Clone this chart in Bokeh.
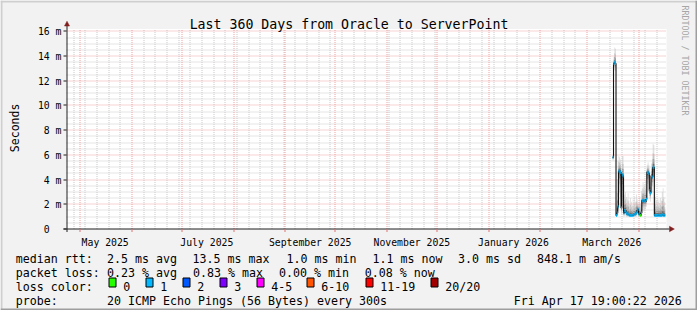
import math
import pandas as pd
from bokeh.plotting import figure
from bokeh.models import Range1d
from bokeh.core.properties import value
from bokeh.embed import file_html
from bokeh.resources import INLINE

# ---------------- data ----------------
title_text = "Last 360 Days from Oracle to ServerPoint"
y_axis_title = "Seconds"
watermark = "RRDTOOL / TOBI OETIKER"
end_time = pd.Timestamp("2026-04-17 19:00:22")
span_days = 360
bin_start = pd.Timestamp("2026-03-16 12:00:00")   # first 12 h consolidation bin
bin_hours = 12

median_ms = [5.8, 13.4, 13.5, 13.4, 1.1, 1.3, 1.8, 4.7, 4.7, 4.6,
             1.7, 4.4, 4.3, 1.3, 1.5, 1.5, 1.3, 1.2, 1.2, 1.15,
             1.1, 1.1, 1.1, 1.1, 1.1, 1.15, 1.2, 1.2, 1.3, 1.5,
             1.6, 1.2, 1.3, 1.1, 1.3, 2.3, 2.3, 2.2, 2.3, 2.2,
             2.4, 4.6, 4.6, 4.5, 3.1, 2.9, 4.3, 4.2, 5.0, 5.0,
             1.1, 1.1, 1.1, 1.1, 1.1, 1.1, 1.1, 1.1, 1.1, 1.15,
             1.1, 1.1, 1.1]
smoke_lo_ms = [5.5, 12.8, 12.9, 12.8, 1.0, 1.0, 1.2, 2.8, 3.0, 2.6,
               1.2, 2.2, 2.5, 1.0, 1.1, 1.1, 1.0, 1.0, 1.0, 1.0,
               1.0, 1.0, 1.0, 1.0, 1.0, 1.0, 1.0, 1.0, 1.0, 1.1,
               1.2, 1.0, 1.0, 1.0, 1.0, 1.5, 1.5, 1.4, 1.5, 1.6,
               1.8, 3.0, 3.2, 3.0, 2.4, 2.2, 3.0, 3.0, 3.6, 3.8,
               1.0, 1.0, 1.0, 1.0, 1.0, 1.0, 1.0, 1.0, 1.0, 1.0,
               1.0, 1.0, 1.0]
smoke_hi_ms = [6.0, 13.9, 14.7, 14.6, 2.0, 4.0, 5.5, 5.9, 5.8, 5.6,
               4.8, 5.9, 5.9, 3.5, 2.8, 3.0, 2.6, 2.4, 2.9, 2.3,
               2.0, 2.5, 2.2, 1.9, 2.4, 2.1, 2.6, 2.2, 2.8, 2.4,
               2.2, 2.0, 2.6, 2.0, 3.1, 3.3, 3.8, 3.4, 3.6, 3.9,
               4.4, 5.2, 5.4, 5.2, 4.6, 4.4, 5.3, 5.6, 6.9, 6.8,
               3.0, 2.6, 2.3, 2.5, 2.2, 2.4, 2.1, 2.5, 2.3, 3.0,
               3.3, 2.6, 2.2]
loss_pings = [0.5] * 33 + [0.0] + [0.5] * 29

y_max_ms = 16.19
y_ticks_ms = [0, 2, 4, 6, 8, 10, 12, 14, 16]
y_minor_step_ms = 0.5
y_tick_labels = ["0\u00a0\u00a0", "2 m", "4 m", "6 m", "8 m", "10 m", "12 m", "14 m", "16 m"]

month_label_month = ["2025-05", "2025-07", "2025-09", "2025-11", "2026-01", "2026-03"]
month_label_text = ["May 2025", "July 2025", "September 2025", "November 2025",
                    "January 2026", "March 2026"]

rtt_label = "median rtt:"
rtt_stats = ["2.5 ms avg", "13.5 ms max", "1.0 ms min", "1.1 ms now", "3.0 ms sd", "848.1 m am/s"]
loss_label = "packet loss:"
loss_stats = ["0.23 % avg", "0.83 % max", "0.00 % min", "0.08 % now"]
lc_title = "loss color:"
lc_labels = ["0", "1", "2", "3", "4-5", "6-10", "11-19", "20/20"]
lc_colors = ["#26ff00", "#00b8ff", "#0059ff", "#7e00ff", "#ff00ff", "#ff5500", "#ff0000", "#a10000"]
lc_upper = [0, 1, 2, 3, 5, 10, 19, 20]
probe_label = "probe:"
probe_text = "20 ICMP Echo Pings (56 Bytes) every 300s"
stamp_text = "Fri Apr 17 19:00:22 2026"

# ---------------- layout (pixels) ----------------
W, H = 697, 310
PL, PW = 66, 600          # plot area left / width
PB, PH = 228.5, 200       # plot area bottom / height
MONO = "DejaVu Sans Mono"
TXT = "#000000"
BACK = "#f2f2f2"


def ms(ts):
    return int(pd.Timestamp(ts).value // 10**6)


start_time = end_time - pd.Timedelta(days=span_days)
T0, T1 = ms(start_time), ms(end_time)
SPAN = T1 - T0
YS = PH / y_max_ms


def t2px(t):
    return PL + (t - T0) * PW / SPAN


def X2t(px):
    return T0 + (px - PL) * SPAN / PW


def v2py(v):
    return PB - v * YS


def Y2v(py):
    return (PB - py) / YS


def snap_t(t):
    return X2t(math.floor(t2px(t)) + 0.5)


def snap_v(v):
    return Y2v(math.floor(v2py(v)) + 0.5)


p = figure(width=W, height=H, output_backend="svg", toolbar_location=None,
           x_range=Range1d(X2t(0), X2t(W)), y_range=Range1d(Y2v(H), Y2v(0)),
           x_axis_location=None, y_axis_location=None, min_border=0,
           background_fill_color=BACK, border_fill_color=BACK, outline_line_color=None)
p.grid.visible = False

# canvas shading border
p.quad(left=[X2t(0), X2t(0), X2t(0), X2t(W - 2)],
       right=[X2t(W), X2t(2), X2t(W), X2t(W)],
       top=[Y2v(0), Y2v(0), Y2v(H - 2), Y2v(0)],
       bottom=[Y2v(2), Y2v(H), Y2v(H), Y2v(H)],
       fill_color=["#cfcfcf", "#cfcfcf", "#9e9e9e", "#9e9e9e"], line_color=None)

# white plot canvas
p.quad(left=[T0], right=[T1], bottom=[0], top=[y_max_ms], fill_color="#ffffff", line_color=None)

# ---- data: smoke ----
n = len(median_ms)
edges = [ms(bin_start + pd.Timedelta(hours=bin_hours * i)) for i in range(n + 1)]
band_frac = [1.0, 0.6, 0.35, 0.15]
band_color = ["#e0e0e0", "#c4c4c4", "#9c9c9c", "#6c6c6c"]
for f, c in zip(band_frac, band_color):
    lo = [m - (m - l) * f for m, l in zip(median_ms, smoke_lo_ms)]
    hi = [m + (h - m) * f for m, h in zip(median_ms, smoke_hi_ms)]
    p.varea_step(x=edges, y1=lo + [lo[-1]], y2=hi + [hi[-1]], step_mode="after", fill_color=c)

# ---- grid ----
month_starts = [m for m in pd.date_range(start_time.normalize(), end_time, freq="MS")
                if m >= start_time]
week_starts = [w for w in pd.date_range(start_time.normalize(), end_time, freq="W-SUN")
               if w >= start_time and w not in month_starts]
y_minor = [k * y_minor_step_ms for k in range(1, int(16 / y_minor_step_ms) + 1)
           if (k * y_minor_step_ms) not in y_ticks_ms]
GRID_MINOR = "#c9c9c9"
GRID_MAJOR = "#eda2a2"
wx = [snap_t(ms(w)) for w in week_starts]
p.segment(x0=wx, x1=wx, y0=[0] * len(wx), y1=[y_max_ms] * len(wx),
          line_color=GRID_MINOR, line_dash="1 1", line_width=1)
hy = [snap_v(v) for v in y_minor]
p.segment(x0=[T0] * len(hy), x1=[T1] * len(hy), y0=hy, y1=hy,
          line_color=GRID_MINOR, line_dash="1 1", line_width=1)
mx = [snap_t(ms(m)) for m in month_starts]
p.segment(x0=mx, x1=mx, y0=[0] * len(mx), y1=[y_max_ms] * len(mx),
          line_color=GRID_MAJOR, line_dash="1 1", line_width=1)
my = [snap_v(v) for v in y_ticks_ms[1:]]
p.segment(x0=[T0] * len(my), x1=[T1] * len(my), y0=my, y1=my,
          line_color=GRID_MAJOR, line_dash="1 1", line_width=1)

# ---- data: median line + loss colour marks ----
p.step(x=edges, y=median_ms + [median_ms[-1]], mode="after", line_color="#111111",
       line_width=1.1)


def loss_index(v):
    for k, u in enumerate(lc_upper):
        if v <= u:
            return k
    return len(lc_upper) - 1


mark_half = 1.5 / YS
p.quad(left=edges[:-1], right=edges[1:],
       bottom=[m - mark_half for m in median_ms], top=[m + mark_half for m in median_ms],
       fill_color=[lc_colors[loss_index(v)] for v in loss_pings], line_color=None)

# ---- axes ----
AX = "#1f1f1f"
ARROW = "#801f1f"
p.segment(x0=[X2t(63), X2t(66.5)], x1=[X2t(669), X2t(66.5)],
          y0=[Y2v(228.5), Y2v(231.5)], y1=[Y2v(228.5), Y2v(25)],
          line_color=AX, line_width=1)
p.patches(xs=[[X2t(669), X2t(673.8), X2t(669)], [X2t(64), X2t(66.5), X2t(69)]],
          ys=[[Y2v(225.8), Y2v(228.5), Y2v(231.2)], [Y2v(25.5), Y2v(20.7), Y2v(25.5)]],
          fill_color=ARROW, line_color=ARROW, line_width=0.5)
# y ticks
ty = [snap_v(v) for v in y_ticks_ms]
p.segment(x0=[X2t(63)] * len(ty), x1=[X2t(66)] * len(ty), y0=ty, y1=ty,
          line_color=AX, line_width=1)
# x ticks at month starts
p.segment(x0=mx, x1=mx, y0=[Y2v(228.5)] * len(mx), y1=[Y2v(231.5)] * len(mx),
          line_color="#e07070", line_width=1)


def txt(strings, xs, ys, size, align="left", baseline="alphabetic", angle=0.0, color=TXT):
    p.text(x=xs, y=ys, text=strings, text_font=value(MONO), text_font_size=value(size),
           text_color=color, text_align=align, text_baseline=baseline, angle=angle)


# tick labels
txt(y_tick_labels, [X2t(61)] * len(y_ticks_ms), ty, "9.8px", align="right", baseline="middle")
label_pos = [ms(pd.Timestamp(m + "-01") + pd.Timedelta(days=15)) for m in month_label_month]
txt(month_label_text, label_pos, [Y2v(241.5)] * len(label_pos), "9.8px", align="center")

# titles
txt([title_text], [X2t(W / 2)], [Y2v(24)], "13.24px", align="center")
txt([y_axis_title], [X2t(14.5)], [Y2v(127.4)], "11.5px", align="center", angle=math.pi / 2)
txt([watermark], [X2t(684.3)], [Y2v(5)], "8.3px", angle=-math.pi / 2, color="#a6a6a6")

# legend
LS = "11.63px"
row_y = [258.3, 272.3, 286.0, 300.0]
txt([rtt_label, loss_label, lc_title, probe_label], [X2t(15.2)] * 4, [Y2v(y) for y in row_y], LS)
txt(rtt_stats, [X2t(x) for x in [106.5, 191.9, 285.9, 371.9, 457.5, 536.5]],
    [Y2v(row_y[0])] * len(rtt_stats), LS)
txt(loss_stats, [X2t(x) for x in [106.5, 192.5, 278.5, 364.2]],
    [Y2v(row_y[1])] * len(loss_stats), LS)
box_px = [108.5, 145.5, 182.5, 219.5, 256.5, 306.5, 365.5, 430.5]
p.quad(left=[X2t(x) for x in box_px], right=[X2t(x + 7) for x in box_px],
       top=[Y2v(277.5)] * len(box_px), bottom=[Y2v(286.5)] * len(box_px),
       fill_color=lc_colors, line_color="#000000", line_width=1)
txt(lc_labels, [X2t(x + 14.3) for x in box_px], [Y2v(row_y[2])] * len(lc_labels), LS)
txt([probe_text], [X2t(106.5)], [Y2v(row_y[3])], LS)
txt([stamp_text], [X2t(681.3)], [Y2v(row_y[3])], LS, align="right")

open("out.html", "w").write(file_html(p, INLINE))
